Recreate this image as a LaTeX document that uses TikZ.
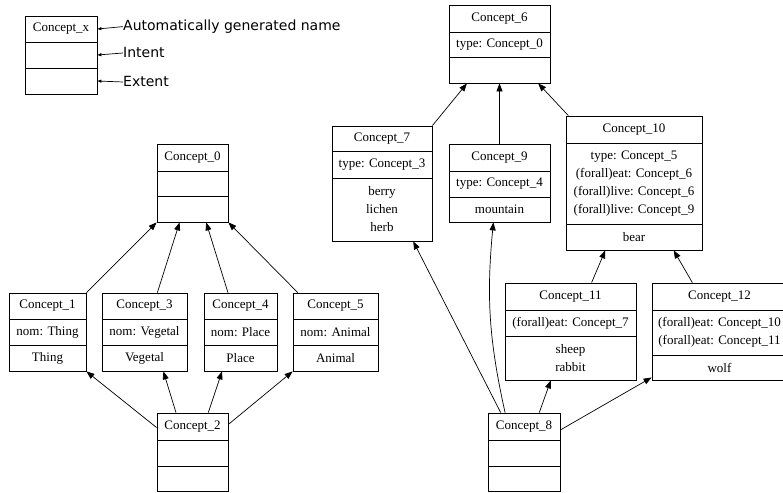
\documentclass[tikz,border=0pt]{standalone}
\usepackage{fontspec}
\setmainfont{Liberation Serif}
\newfontfamily\legfont{DejaVu Sans}
\usetikzlibrary{arrows.meta,fit,calc}

\tikzset{
  boxst/.style={draw=black, line width=0.8pt, inner sep=0pt},
  rowline/.style={draw=black, line width=0.8pt},
  lbl/.style={inner sep=0pt, align=center, font=\fontsize{13}{18}\selectfont},
  legtext/.style={inner sep=0pt, anchor=base west, font=\legfont\fontsize{14}{16}\selectfont},
  link/.style={line width=0.7pt, -{Triangle[length=8pt,width=6pt]}},
  leglink/.style={line width=0.7pt, -{Triangle[length=4pt,width=3pt]}},
}

% #1 name, #2 x1, #3 x2, #4 ytop, #5 row1, #6 row2, #7 ybottom, #8 title
\newcommand\cbox[8]{%
  \node[fit={(#2,#4)(#3,#7)}, boxst] (#1) {};
  \draw[rowline] (#2,#5) -- (#3,#5);
  \draw[rowline] (#2,#6) -- (#3,#6);
  \node[lbl] (#1-t) at ({(#2+#3)/2},{(#4+#5)/2}) {#8};
  \gdef\cxm{(#2+#3)/2}\gdef\cya{(#5+#6)/2}\gdef\cyb{(#6+#7)/2}%
}
% #1 name, #2 intent, #3 extent
\newcommand\cfill[3]{%
  \node[lbl] (#1-i) at ({\cxm},{\cya}) {#2};
  \node[lbl] (#1-e) at ({\cxm},{\cyb}) {#3};
}

\begin{document}
\begin{tikzpicture}[x=1pt,y=-1pt]
\useasboundingbox (0,0) rectangle (783,492);
\fill[white] (0,0) rectangle (783,492);

% legend
\cbox{cx}{25}{97}{16}{42}{68}{94}{Concept\_x}
\cfill{cx}{}{}
\node[legtext] (lA) at (123,30.5) {Automatically generated name};
\node[legtext] (lB) at (123,58) {Intent};
\node[legtext] (lC) at (123,87) {Extent};
\draw[leglink] (lA.west) -- (cx.east |- cx-t);
\draw[leglink] (lB.west) -- (cx.east |- cx-i);
\draw[leglink] (lC.west) -- (cx.east |- cx-e);

% left lattice
\cbox{c0}{157}{228}{144}{171}{196}{222}{Concept\_0}
\cfill{c0}{}{}
\cbox{c1}{9}{86}{293}{319}{345}{371}{Concept\_1}
\cfill{c1}{nom: Thing}{Thing}
\cbox{c3}{102}{187}{293}{319}{345}{371}{Concept\_3}
\cfill{c3}{nom: Vegetal}{Vegetal}
\cbox{c4}{204}{277}{293}{319}{345}{371}{Concept\_4}
\cfill{c4}{nom: Place}{Place}
\cbox{c5}{293}{378}{293}{319}{345}{371}{Concept\_5}
\cfill{c5}{nom: Animal}{Animal}
\cbox{c2}{157}{228}{413}{440}{466}{491}{Concept\_2}
\cfill{c2}{}{}

\draw[link] (c1.north east) -- (c0.south west);
\draw[link] ($(c3.north west)!0.65!(c3.north east)$) -- ($(c0.south west)!0.32!(c0.south east)$);
\draw[link] ($(c4.north west)!0.33!(c4.north east)$) -- ($(c0.south west)!0.69!(c0.south east)$);
\draw[link] ($(c5.north west)!0.06!(c5.north east)$) -- (c0.south east);
\draw[link] ($(c2.north west)!0.19!(c2.south west)$) -- (c1.south east);
\draw[link] ($(c2.north west)!0.27!(c2.north east)$) -- ($(c3.south west)!0.72!(c3.south east)$);
\draw[link] ($(c2.north west)!0.72!(c2.north east)$) -- ($(c4.south west)!0.25!(c4.south east)$);
\draw[link] ($(c2.north east)!0.15!(c2.south east)$) -- (c5.south west);

% right lattice
\cbox{c6}{449}{550}{5}{32}{57}{83}{Concept\_6}
\cfill{c6}{type: Concept\_0}{}
\cbox{c7}{332}{432}{126}{151}{178}{241}{Concept\_7}
\cfill{c7}{type: Concept\_3}{berry\\lichen\\herb}
\cbox{c9}{449}{550}{144}{171}{197}{222}{Concept\_9}
\cfill{c9}{type: Concept\_4}{mountain}
\cbox{c10}{566}{702}{116}{143}{224}{250}{Concept\_10}
\cfill{c10}{type: Concept\_5\\(forall)eat: Concept\_6\\(forall)live: Concept\_6\\(forall)live: Concept\_9}{bear}
\cbox{c11}{505}{636}{283}{310}{336}{380}{Concept\_11}
\cfill{c11}{(forall)eat: Concept\_7}{sheep\\rabbit}
\cbox{c12}{652}{787}{283}{310}{355}{380}{Concept\_12}
\cfill{c12}{(forall)eat: Concept\_10\\(forall)eat: Concept\_11}{wolf}
\cbox{c8}{488}{560}{413}{440}{466}{491}{Concept\_8}
\cfill{c8}{}{}

\draw[link] (c7.north east) -- ($(c6.south west)!0.18!(c6.south east)$);
\draw[link] (c9.north) -- (c6.south);
\draw[link] ($(c10.north west)!0.02!(c10.north east)$) -- ($(c6.south west)!0.88!(c6.south east)$);
\draw[link] ($(c11.north west)!0.66!(c11.north east)$) -- ($(c10.south west)!0.29!(c10.south east)$);
\draw[link] ($(c12.north west)!0.30!(c12.north east)$) -- ($(c10.south west)!0.79!(c10.south east)$);
\draw[link] ($(c8.north west)!0.18!(c8.north east)$) -- ($(c7.south west)!0.81!(c7.south east)$);
\draw[link] ($(c8.north west)!0.24!(c8.north east)$) to[bend left=9] ($(c9.south west)!0.44!(c9.south east)$);
\draw[link] ($(c8.north west)!0.71!(c8.north east)$) -- ($(c11.south west)!0.35!(c11.south east)$);
\draw[link] ($(c8.north east)!0.22!(c8.south east)$) -- ($(c12.north west)!0.97!(c12.south west)$);
\end{tikzpicture}
\end{document}
